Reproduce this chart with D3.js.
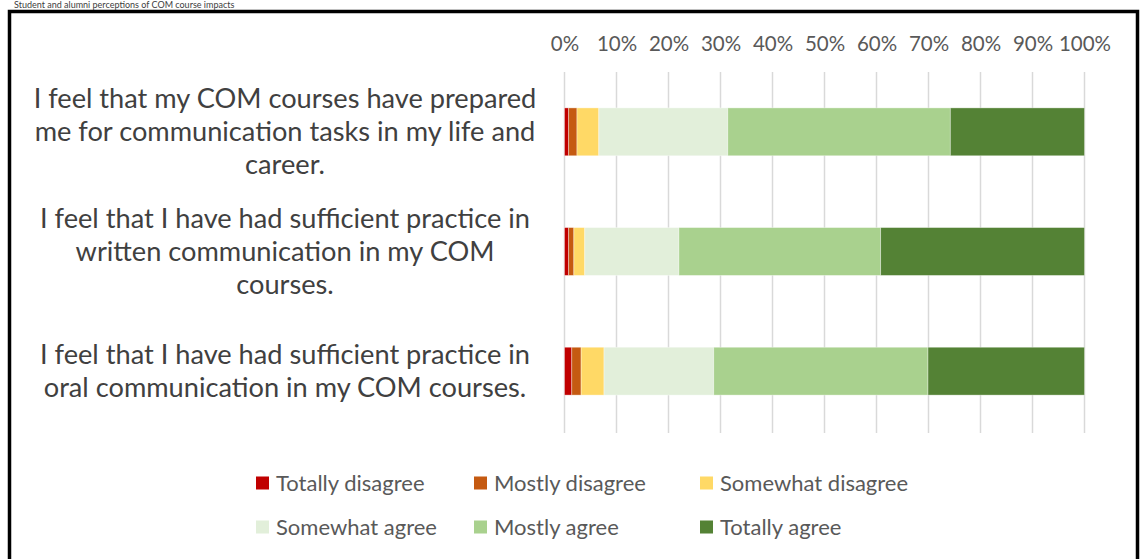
<!DOCTYPE html>
<html>
<head>
<meta charset="utf-8">
<script src="https://cdn.jsdelivr.net/npm/d3@7"></script>
<style>
  html, body { margin: 0; padding: 0; background: #fff; }
  svg { display: block; font-family: Lato, "Open Sans", sans-serif; }
</style>
</head>
<body>
<svg id="chart" width="1142" height="559"></svg>
<script>
// statements, each already broken into the lines shown on the chart
const categories = [
    ["I feel that my COM courses have prepared", "me for communication tasks in my life and", "career."],
    ["I feel that I have had sufficient practice in", "written communication in my COM", "courses."],
    ["I feel that I have had sufficient practice in", "oral communication in my COM courses."]
];
const seriesNames = ["Totally disagree", "Mostly disagree", "Somewhat disagree",
                     "Somewhat agree", "Mostly agree", "Totally agree"];
const seriesColors = ["#C00000", "#C55A11", "#FFD966", "#E2EFDA", "#A9D18E", "#548235"];

// percent of answers per statement, one array per series
const totallyDisagree  = [0.8, 0.8, 1.4];
const mostlyDisagree   = [1.6, 1.0, 1.8];
const somewhatDisagree = [4.2, 2.1, 4.4];
const somewhatAgree    = [24.8, 18.1, 21.1];
const mostlyAgree      = [42.8, 38.8, 41.2];
const totallyAgree     = [25.8, 39.2, 30.1];
const tickValues = [0, 10, 20, 30, 40, 50, 60, 70, 80, 90, 100];

const series = [totallyDisagree, mostlyDisagree, somewhatDisagree,
                somewhatAgree, mostlyAgree, totallyAgree];

const rows = categories.map((c, i) => {
    const r = { id: i };
    seriesNames.forEach((s, j) => r[s] = series[j][i]);
    return r;
});
const stacked = d3.stack().keys(seriesNames)(rows);

const svg = d3.select("#chart");

// small title above the frame
svg.append("text")
    .attr("x", 14).attr("y", 8)
    .attr("font-size", 9)
    .attr("fill", "#404040")
    .text("Student and alumni perceptions of COM course impacts");

// outer frame (bottom edge runs off the picture)
svg.append("path")
    .attr("d", "M9.5,570 L9.5,11.5 L1137.5,11.5 L1137.5,570")
    .attr("fill", "#fff")
    .attr("stroke", "#000")
    .attr("stroke-width", 3.5);

const x = d3.scaleLinear().domain([0, 100]).range([564.5, 1084.5]);
const y = d3.scaleBand().domain(d3.range(categories.length))
    .range([72, 431]).paddingInner(0.6).paddingOuter(0.3);

// gridlines
svg.append("g")
    .selectAll("line")
    .data(tickValues)
    .join("line")
    .attr("x1", d => x(d)).attr("x2", d => x(d))
    .attr("y1", 72).attr("y2", 433)
    .attr("stroke", "#D9D9D9")
    .attr("stroke-width", 1.5);

// top axis labels
const xAxis = d3.axisTop(x).tickValues(tickValues).tickSize(0).tickPadding(0)
    .tickFormat(d => d + "%");
svg.append("g")
    .attr("transform", "translate(0,51)")
    .call(xAxis)
    .call(g => g.select(".domain").remove())
    .call(g => g.selectAll("text")
        .attr("font-family", "Lato, 'Open Sans', sans-serif")
        .attr("font-size", 20.5)
        .attr("fill", "#595959"));

// bars
svg.append("g")
    .selectAll("g")
    .data(stacked)
    .join("g")
    .attr("fill", (d, i) => seriesColors[i])
    .selectAll("rect")
    .data(d => d)
    .join("rect")
    .attr("x", d => x(d[0]))
    .attr("y", (d, i) => y(i))
    .attr("width", d => x(d[1]) - x(d[0]))
    .attr("height", y.bandwidth())
    .attr("stroke", "#fff")
    .attr("stroke-opacity", 0.45)
    .attr("stroke-width", 0.8);

// category labels, centred lines
const lineH = 33;
const labels = svg.append("g")
    .selectAll("text")
    .data(categories)
    .join("text")
    .attr("text-anchor", "middle")
    .attr("font-size", 27.2)
    .attr("fill", "#404040");
labels.each(function (lines, i) {
    const cy = y(i) + y.bandwidth() / 2;
    const y0 = cy - (lines.length - 1) * lineH / 2 + 9.5;
    d3.select(this).selectAll("tspan")
        .data(lines)
        .join("tspan")
        .attr("x", 285)
        .attr("y", (d, k) => y0 + k * lineH)
        .text(d => d);
});

// legend
const legX = [256, 474, 700];
const legY = [483, 527];
const legend = svg.append("g")
    .selectAll("g")
    .data(seriesNames)
    .join("g")
    .attr("transform", (d, i) => `translate(${legX[i % 3]},${legY[Math.floor(i / 3)]})`);
legend.append("rect")
    .attr("x", 0).attr("y", -6.5)
    .attr("width", 13).attr("height", 13)
    .attr("fill", (d, i) => seriesColors[i]);
legend.append("text")
    .attr("x", 20).attr("y", 7.5)
    .attr("font-size", 22)
    .attr("fill", "#595959")
    .text(d => d);
</script>
</body>
</html>
